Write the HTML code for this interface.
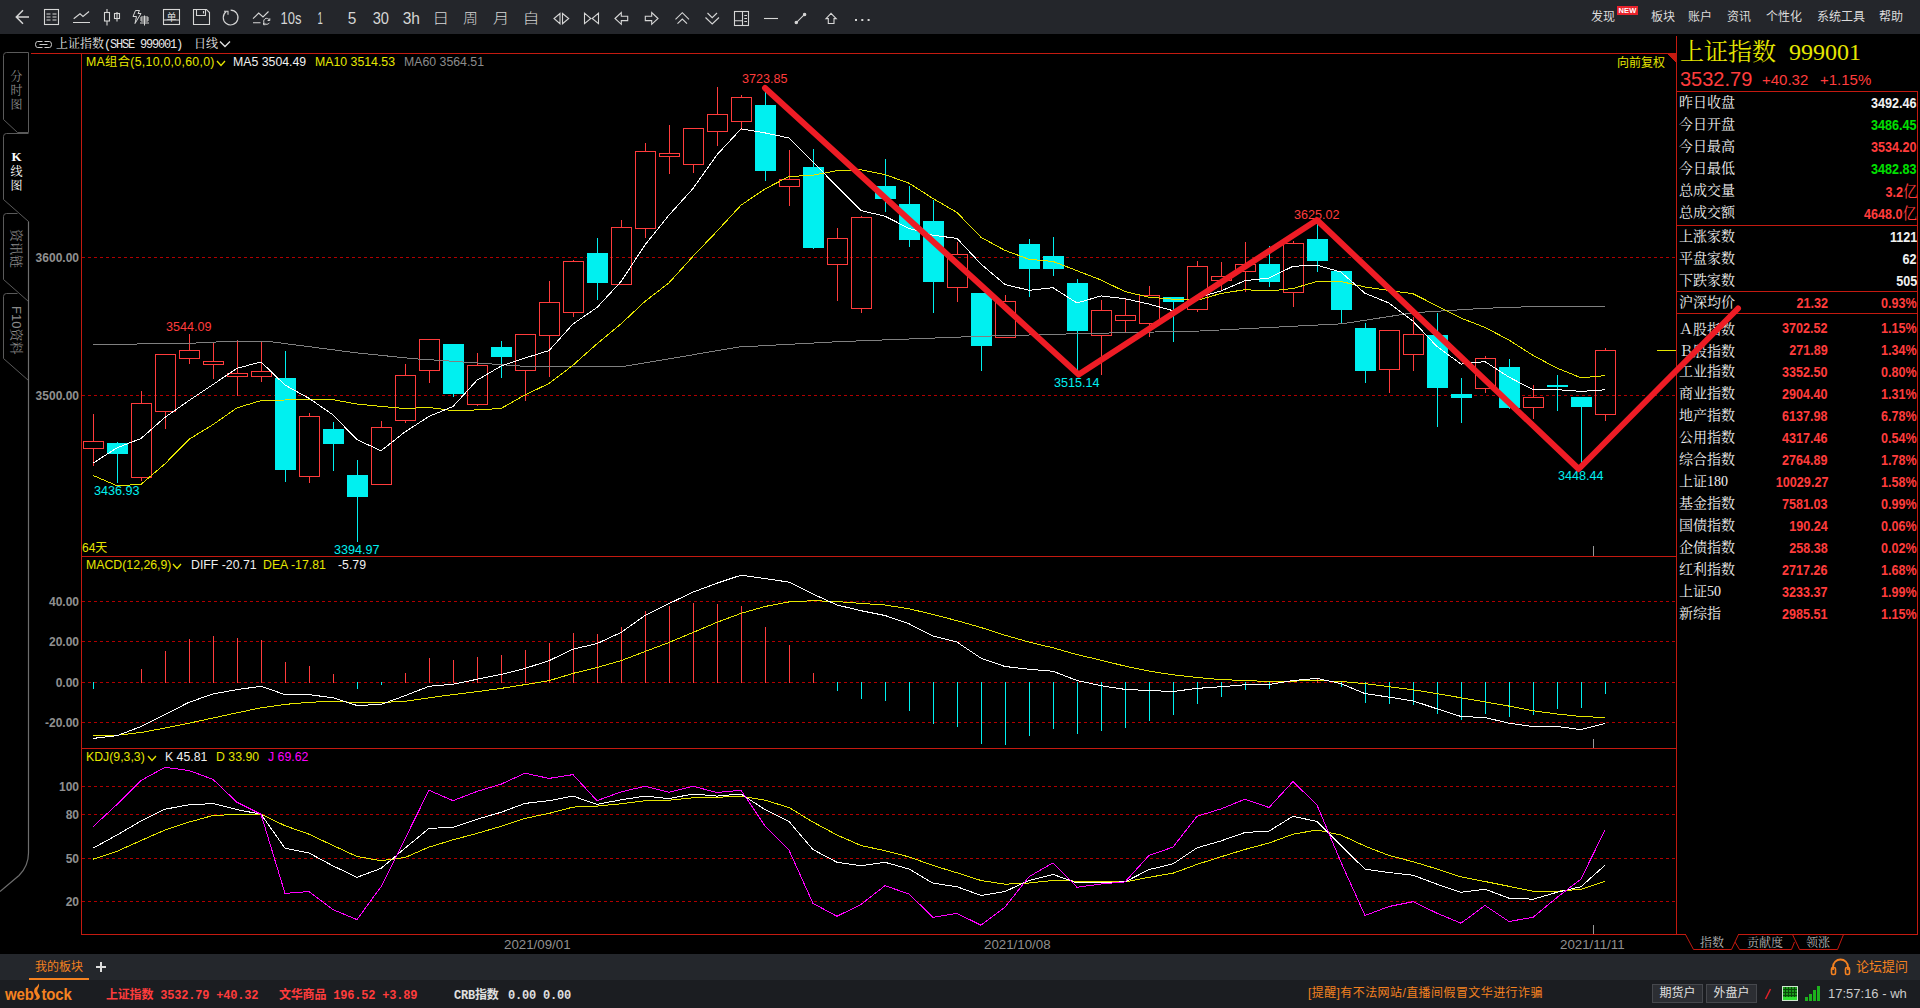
<!DOCTYPE html>
<html lang="zh-CN"><head><meta charset="utf-8"><title>上证指数 K线图</title>
<style>
html,body{margin:0;padding:0;background:#000;}
body{width:1920px;height:1008px;position:relative;overflow:hidden;font-family:"Liberation Sans","Noto Sans CJK SC",sans-serif;}
.abs{position:absolute;}
.t{position:absolute;white-space:nowrap;line-height:16px;font-size:12px;color:#ddd;}
.menu{font-size:12px;line-height:18px;color:#dcdcdc;font-family:"Liberation Sans","Noto Sans CJK SC",sans-serif;}
.new{position:absolute;left:1617px;top:6px;width:21px;height:9px;background:#e8222c;color:#fff;font-size:7.500px;line-height:9px;text-align:center;font-weight:bold;letter-spacing:0.2px;font-family:"Liberation Sans",sans-serif;}
.song12{font-family:"Liberation Mono","Noto Serif CJK SC",serif;font-size:12px;line-height:16px;color:#e8e8e8;}
.mono{font-family:"Liberation Mono",monospace;font-size:12px;letter-spacing:-1.2px;}
.lab{font-size:12.300px;line-height:16px;}
.yel{color:#e6e600;} .wht{color:#f0f0f0;} .gry{color:#8c8c8c;} .mag{color:#ff00ff;}
.red{color:#ff3c3c;} .cy{color:#00f0f0;} .g{color:#00e000;} .w{color:#f0f0f0;}
.yax{font-weight:bold;color:#909090;font-size:12px;line-height:16px;}
.date{color:#909090;font-size:13.3px;line-height:16px;margin-top:1px}
.vt{position:absolute;width:13px;text-align:center;font-size:12px;line-height:14px;font-family:"Noto Serif CJK SC",serif;}
.rt{position:absolute;writing-mode:vertical-rl;text-orientation:sideways;font-size:13px;line-height:14px;color:#8a8a8a;font-family:"Liberation Sans","Noto Serif CJK SC",serif;white-space:nowrap;}
.big{font-family:"Liberation Serif","Noto Serif CJK SC",serif;font-size:24px;line-height:28px;color:#e6e600;word-spacing:7px;}
.rl{font-family:"Liberation Serif","Noto Serif CJK SC",serif;font-size:14px;line-height:20px;color:#f0f0f0;}
.fw{font-family:"Noto Serif CJK SC",serif;}
.rv{font-weight:bold;font-size:14px;line-height:20px;transform:scaleX(0.9);transform-origin:100% 50%;}
.yi{font-family:"Noto Serif CJK SC",serif;font-weight:normal;font-size:16px;letter-spacing:0;}
.logo{color:#f58220;font-weight:bold;font-size:15px;line-height:24px;letter-spacing:-0.1px;transform:scaleY(1.16);transform-origin:0 20px;}
.stat{font-family:"Liberation Mono","Noto Sans CJK SC",monospace;font-weight:bold;font-size:12px;line-height:16px;letter-spacing:-0.2px;}
.btn{position:absolute;top:984px;width:49px;height:17px;border:1px solid #46484d;background:#2c2e33;color:#e0e0e0;font-size:12px;line-height:17px;text-align:center;}
</style></head><body>
<div class="abs" style="left:0;top:0;width:1920px;height:34px;background:#24262b"></div>
<svg class="abs" style="left:0;top:0" width="900" height="34" viewBox="0 0 900 34"><g fill="none" stroke="#d6d6d6" stroke-width="1.1" stroke-linecap="butt" stroke-linejoin="miter"><path d="M29,17 H16.5 M23,10.3 L16.3,17 L23,23.7" stroke-width="1.5"/></g><g fill="none" stroke="#d6d6d6" stroke-width="1.1" stroke-linecap="butt" stroke-linejoin="miter"><rect x="44.5" y="9.5" width="14" height="15"/><path d="M46.5,14 H50.5 M52.5,14 H56.5 M46.5,17 H50.5 M52.5,17 H56.5 M46.5,20 H50.5 M52.5,20 H56.5"/></g><g fill="none" stroke="#d6d6d6" stroke-width="1.1" stroke-linecap="butt" stroke-linejoin="miter"><path d="M73.7,18.7 L80,13.8 L83,16.5 L89,11.5 M73,22.5 H90"/></g><g fill="none" stroke="#d6d6d6" stroke-width="1.1" stroke-linecap="butt" stroke-linejoin="miter"><rect x="104.5" y="12.5" width="5" height="8.5"/><path d="M107,9 V12.5 M107,21 V25.5"/><rect x="114.5" y="13.5" width="5" height="5"/><path d="M117,12 V21.5"/></g><g fill="none" stroke="#d6d6d6" stroke-width="1" stroke-linecap="butt" stroke-linejoin="miter"><path d="M139.5,10.5 H135.5 L133,16.5 H136.5 L135,23.5 L141,13.5 H138 Z"/><path d="M141,17 H148 V21 H141 Z M141,19 H148 M144.5,15.5 V25.5 M140,23 H149"/></g><g fill="none" stroke="#d6d6d6" stroke-width="1.1" stroke-linecap="butt" stroke-linejoin="miter"><rect x="163.5" y="9.5" width="16" height="15"/><path d="M163.5,20 H179.500"/></g><text x="171.5" y="20.5" text-anchor="middle" font-family="Liberation Sans, Noto Sans CJK SC, sans-serif" font-size="10" fill="#d6d6d6">单</text><g fill="none" stroke="#d6d6d6" stroke-width="1.1" stroke-linecap="butt" stroke-linejoin="miter"><path d="M193.5,9.5 H206.5 L209.5,12.5 V24.5 H193.5 Z M196.5,9.5 V15.500 H205.500 V9.5 M203.5,11 V13.5"/></g><g fill="none" stroke="#d6d6d6" stroke-width="1.1" stroke-linecap="butt" stroke-linejoin="miter"><path d="M226.300,11.500 A7.400,7.400 0 1 0 230.600,10.100"/><path d="M224,11.200 H228 V14.800"/></g><g fill="none" stroke="#d6d6d6" stroke-width="1.1" stroke-linecap="butt" stroke-linejoin="miter"><path d="M253,18.700 L258.700,13 L263,17 L268.500,11.500 M253,22.700 H260.500"/><path d="M269.500,20.300 A3,3 0 1 0 269.300,22.800 M269.800,18.300 V20.500 H267.600 M263.500,22.700 L263.500,24.700 L265.500,24.700" stroke-width="1"/></g><text x="280.6" y="23.7" textLength="20.9" lengthAdjust="spacingAndGlyphs" font-family="Liberation Sans, sans-serif" font-size="16.5" font-weight="400" fill="#d6d6d6">10s</text><text x="317.5" y="23.7" textLength="5.3" lengthAdjust="spacingAndGlyphs" font-family="Liberation Sans, sans-serif" font-size="16.5" font-weight="400" fill="#d6d6d6">1</text><text x="347.7" y="23.7" textLength="8.6" lengthAdjust="spacingAndGlyphs" font-family="Liberation Sans, sans-serif" font-size="16.5" font-weight="400" fill="#d6d6d6">5</text><text x="372.7" y="23.7" textLength="16.3" lengthAdjust="spacingAndGlyphs" font-family="Liberation Sans, sans-serif" font-size="16.5" font-weight="400" fill="#d6d6d6">30</text><text x="402.7" y="23.7" textLength="17.3" lengthAdjust="spacingAndGlyphs" font-family="Liberation Sans, sans-serif" font-size="16.5" font-weight="400" fill="#d6d6d6">3h</text><text x="432.3" y="23.3" textLength="17.0" lengthAdjust="spacingAndGlyphs" font-family="Noto Sans CJK SC, Liberation Sans, sans-serif" font-size="13.5" font-weight="300" fill="#d6d6d6">日</text><text x="463.1" y="23.3" textLength="15.0" lengthAdjust="spacingAndGlyphs" font-family="Noto Sans CJK SC, Liberation Sans, sans-serif" font-size="13.5" font-weight="300" fill="#d6d6d6">周</text><text x="492.7" y="23.3" textLength="16.5" lengthAdjust="spacingAndGlyphs" font-family="Noto Sans CJK SC, Liberation Sans, sans-serif" font-size="13.5" font-weight="300" fill="#d6d6d6">月</text><text x="522.5" y="23.3" textLength="17.0" lengthAdjust="spacingAndGlyphs" font-family="Noto Sans CJK SC, Liberation Sans, sans-serif" font-size="13.5" font-weight="300" fill="#d6d6d6">自</text><g fill="none" stroke="#d6d6d6" stroke-width="1.1" stroke-linecap="butt" stroke-linejoin="miter"><path d="M560,13.500 L554,18.500 L560,23.700 Z M562.500,13.500 L568.700,18.500 L562.500,23.700 Z"/></g><g fill="none" stroke="#d6d6d6" stroke-width="1.1" stroke-linecap="butt" stroke-linejoin="miter"><path d="M584.500,13.200 L590.800,18.500 L584.500,23.700 Z M598.500,13.200 L592.200,18.500 L598.500,23.700 Z"/></g><g fill="none" stroke="#d6d6d6" stroke-width="1.1" stroke-linecap="butt" stroke-linejoin="miter"><path d="M615,18.500 L621.300,12.600 V16.300 H627.700 V20.600 H621.300 V24.300 Z"/></g><g fill="none" stroke="#d6d6d6" stroke-width="1.1" stroke-linecap="butt" stroke-linejoin="miter"><path d="M658,18.500 L651.700,12.600 V16.300 H645.300 V20.600 H651.700 V24.300 Z"/></g><g fill="none" stroke="#d6d6d6" stroke-width="1.1" stroke-linecap="butt" stroke-linejoin="miter"><path d="M675.500,19.300 L682.300,12.700 L689,19.300 M677.500,23.700 L682.300,19 L687,23.700"/></g><g fill="none" stroke="#d6d6d6" stroke-width="1.1" stroke-linecap="butt" stroke-linejoin="miter"><path d="M707.500,13 L712.200,17.700 L717,13 M705.500,17.500 L712.200,24 L719,17.500"/></g><g fill="none" stroke="#d6d6d6" stroke-width="1.1" stroke-linecap="butt" stroke-linejoin="miter"><rect x="734.500" y="11.500" width="14" height="14"/><path d="M742.500,11.500 V25.500 M734.500,20.800 H742.500 M744.300,15.500 H747 M744.300,18.500 H747 M744.300,21.500 H747"/></g><g fill="none" stroke="#d6d6d6" stroke-width="1.1" stroke-linecap="butt" stroke-linejoin="miter"><path d="M764,18.500 H778"/></g><g fill="none" stroke="#d6d6d6" stroke-width="1.1" stroke-linecap="butt" stroke-linejoin="miter"><path d="M796.300,22.600 L804.600,14.400"/><circle cx="796.300" cy="22.600" r="1.200" fill="#d6d6d6"/><circle cx="804.600" cy="14.400" r="1.200" fill="#d6d6d6"/></g><g fill="none" stroke="#d6d6d6" stroke-width="1.1" stroke-linecap="butt" stroke-linejoin="miter"><path d="M831,13.300 L826,18.600 H828.300 V23.500 H834 V18.600 H836.200 Z"/></g><rect x="855" y="19" width="2" height="2" fill="#d6d6d6"/><rect x="861.300" y="19" width="2" height="2" fill="#d6d6d6"/><rect x="867.600" y="19" width="2" height="2" fill="#d6d6d6"/></svg>
<svg class="abs" style="left:0;top:0" width="1920" height="1008" viewBox="0 0 1920 1008" shape-rendering="crispEdges"><rect x="31" y="53" width="1646" height="1" fill="#c41a10"/><rect x="81" y="53" width="1" height="882" fill="#c41a10"/><rect x="81" y="556" width="1596" height="1" fill="#c41a10"/><rect x="81" y="748" width="1596" height="1" fill="#c41a10"/><rect x="81" y="934" width="1596" height="1" fill="#c41a10"/><rect x="1676" y="36" width="1" height="899" fill="#c41a10"/><rect x="1917" y="91" width="1" height="844" fill="#c41a10"/><rect x="1676" y="91" width="242" height="1" fill="#c41a10"/><rect x="1676" y="225" width="242" height="1" fill="#c41a10"/><rect x="1676" y="291" width="242" height="1" fill="#c41a10"/><rect x="1676" y="313" width="242" height="1" fill="#c41a10"/><rect x="1676" y="934" width="10" height="1" fill="#c41a10"/><rect x="1738" y="934" width="180" height="1" fill="#c41a10"/><polygon points="1666,53 1677,53 1677,64" fill="#c41a10"/><line x1="82" y1="257.5" x2="1676" y2="257.5" stroke="#b00000" stroke-width="1" stroke-dasharray="3 3"/><line x1="82" y1="395.5" x2="1676" y2="395.5" stroke="#b00000" stroke-width="1" stroke-dasharray="3 3"/><line x1="82" y1="601.5" x2="1676" y2="601.5" stroke="#b00000" stroke-width="1" stroke-dasharray="3 3"/><line x1="82" y1="641.5" x2="1676" y2="641.5" stroke="#b00000" stroke-width="1" stroke-dasharray="3 3"/><line x1="82" y1="682.5" x2="1676" y2="682.5" stroke="#b00000" stroke-width="1" stroke-dasharray="3 3"/><line x1="82" y1="722.5" x2="1676" y2="722.5" stroke="#b00000" stroke-width="1" stroke-dasharray="3 3"/><line x1="82" y1="786.5" x2="1676" y2="786.5" stroke="#b00000" stroke-width="1" stroke-dasharray="3 3"/><line x1="82" y1="814.5" x2="1676" y2="814.5" stroke="#b00000" stroke-width="1" stroke-dasharray="3 3"/><line x1="82" y1="858.5" x2="1676" y2="858.5" stroke="#b00000" stroke-width="1" stroke-dasharray="3 3"/><line x1="82" y1="901.5" x2="1676" y2="901.5" stroke="#b00000" stroke-width="1" stroke-dasharray="3 3"/><rect x="1593" y="546" width="1" height="10" fill="#999"/><rect x="1593" y="739" width="1" height="9" fill="#999"/><rect x="1593" y="925" width="1" height="9" fill="#999"/><rect x="1593" y="554" width="1" height="2" fill="#999"/><rect x="93" y="414" width="1" height="28" fill="#ff3c3c"/><rect x="93" y="448" width="1" height="18" fill="#ff3c3c"/><rect x="83.5" y="441.5" width="20" height="7" fill="none" stroke="#ff3c3c" stroke-width="1"/><rect x="117" y="442" width="1" height="41" fill="#00f0f0"/><rect x="107" y="443" width="21" height="11" fill="#00f0f0"/><rect x="141" y="391" width="1" height="13" fill="#ff3c3c"/><rect x="141" y="477" width="1" height="4" fill="#ff3c3c"/><rect x="131.5" y="403.5" width="20" height="74" fill="none" stroke="#ff3c3c" stroke-width="1"/><rect x="165" y="411" width="1" height="18" fill="#ff3c3c"/><rect x="155.5" y="354.5" width="20" height="57" fill="none" stroke="#ff3c3c" stroke-width="1"/><rect x="189" y="334" width="1" height="17" fill="#ff3c3c"/><rect x="189" y="358" width="1" height="6" fill="#ff3c3c"/><rect x="179.5" y="350.5" width="20" height="8" fill="none" stroke="#ff3c3c" stroke-width="1"/><rect x="213" y="342" width="1" height="20" fill="#ff3c3c"/><rect x="213" y="364" width="1" height="15" fill="#ff3c3c"/><rect x="203.5" y="361.5" width="20" height="3" fill="none" stroke="#ff3c3c" stroke-width="1"/><rect x="237" y="340" width="1" height="34" fill="#ff3c3c"/><rect x="237" y="376" width="1" height="20" fill="#ff3c3c"/><rect x="227.5" y="373.5" width="20" height="3" fill="none" stroke="#ff3c3c" stroke-width="1"/><rect x="261" y="342" width="1" height="30" fill="#ff3c3c"/><rect x="261" y="376" width="1" height="6" fill="#ff3c3c"/><rect x="251.5" y="371.5" width="20" height="5" fill="none" stroke="#ff3c3c" stroke-width="1"/><rect x="285" y="351" width="1" height="131" fill="#00f0f0"/><rect x="275" y="378" width="21" height="92" fill="#00f0f0"/><rect x="309" y="413" width="1" height="4" fill="#ff3c3c"/><rect x="309" y="476" width="1" height="7" fill="#ff3c3c"/><rect x="299.5" y="416.5" width="20" height="60" fill="none" stroke="#ff3c3c" stroke-width="1"/><rect x="333" y="422" width="1" height="49" fill="#00f0f0"/><rect x="323" y="429" width="21" height="15" fill="#00f0f0"/><rect x="357" y="460" width="1" height="82" fill="#00f0f0"/><rect x="347" y="475" width="21" height="22" fill="#00f0f0"/><rect x="381" y="421" width="1" height="7" fill="#ff3c3c"/><rect x="371.5" y="427.5" width="20" height="57" fill="none" stroke="#ff3c3c" stroke-width="1"/><rect x="405" y="364" width="1" height="12" fill="#ff3c3c"/><rect x="405" y="420" width="1" height="3" fill="#ff3c3c"/><rect x="395.5" y="375.5" width="20" height="45" fill="none" stroke="#ff3c3c" stroke-width="1"/><rect x="429" y="370" width="1" height="13" fill="#ff3c3c"/><rect x="419.5" y="339.5" width="20" height="31" fill="none" stroke="#ff3c3c" stroke-width="1"/><rect x="453" y="344" width="1" height="53" fill="#00f0f0"/><rect x="443" y="344" width="21" height="50" fill="#00f0f0"/><rect x="477" y="353" width="1" height="13" fill="#ff3c3c"/><rect x="477" y="404" width="1" height="2" fill="#ff3c3c"/><rect x="467.5" y="365.5" width="20" height="39" fill="none" stroke="#ff3c3c" stroke-width="1"/><rect x="501" y="341" width="1" height="37" fill="#00f0f0"/><rect x="491" y="347" width="21" height="10" fill="#00f0f0"/><rect x="525" y="370" width="1" height="31" fill="#ff3c3c"/><rect x="515.5" y="334.5" width="20" height="36" fill="none" stroke="#ff3c3c" stroke-width="1"/><rect x="549" y="281" width="1" height="22" fill="#ff3c3c"/><rect x="549" y="335" width="1" height="42" fill="#ff3c3c"/><rect x="539.5" y="302.5" width="20" height="33" fill="none" stroke="#ff3c3c" stroke-width="1"/><rect x="573" y="260" width="1" height="2" fill="#ff3c3c"/><rect x="573" y="312" width="1" height="5" fill="#ff3c3c"/><rect x="563.5" y="261.5" width="20" height="51" fill="none" stroke="#ff3c3c" stroke-width="1"/><rect x="597" y="238" width="1" height="62" fill="#00f0f0"/><rect x="587" y="253" width="21" height="30" fill="#00f0f0"/><rect x="621" y="220" width="1" height="8" fill="#ff3c3c"/><rect x="611.5" y="227.5" width="20" height="57" fill="none" stroke="#ff3c3c" stroke-width="1"/><rect x="645" y="143" width="1" height="9" fill="#ff3c3c"/><rect x="645" y="228" width="1" height="10" fill="#ff3c3c"/><rect x="635.5" y="151.5" width="20" height="77" fill="none" stroke="#ff3c3c" stroke-width="1"/><rect x="669" y="125" width="1" height="29" fill="#ff3c3c"/><rect x="669" y="156" width="1" height="18" fill="#ff3c3c"/><rect x="659.5" y="153.5" width="20" height="3" fill="none" stroke="#ff3c3c" stroke-width="1"/><rect x="693" y="164" width="1" height="9" fill="#ff3c3c"/><rect x="683.5" y="128.5" width="20" height="36" fill="none" stroke="#ff3c3c" stroke-width="1"/><rect x="717" y="87" width="1" height="28" fill="#ff3c3c"/><rect x="717" y="131" width="1" height="15" fill="#ff3c3c"/><rect x="707.5" y="114.5" width="20" height="17" fill="none" stroke="#ff3c3c" stroke-width="1"/><rect x="741" y="95" width="1" height="3" fill="#ff3c3c"/><rect x="741" y="121" width="1" height="9" fill="#ff3c3c"/><rect x="731.5" y="97.5" width="20" height="24" fill="none" stroke="#ff3c3c" stroke-width="1"/><rect x="765" y="87" width="1" height="94" fill="#00f0f0"/><rect x="755" y="105" width="21" height="66" fill="#00f0f0"/><rect x="789" y="150" width="1" height="30" fill="#ff3c3c"/><rect x="789" y="186" width="1" height="20" fill="#ff3c3c"/><rect x="779.5" y="179.5" width="20" height="7" fill="none" stroke="#ff3c3c" stroke-width="1"/><rect x="813" y="149" width="1" height="100" fill="#00f0f0"/><rect x="803" y="167" width="21" height="81" fill="#00f0f0"/><rect x="837" y="228" width="1" height="11" fill="#ff3c3c"/><rect x="837" y="264" width="1" height="37" fill="#ff3c3c"/><rect x="827.5" y="238.5" width="20" height="26" fill="none" stroke="#ff3c3c" stroke-width="1"/><rect x="861" y="216" width="1" height="2" fill="#ff3c3c"/><rect x="861" y="308" width="1" height="5" fill="#ff3c3c"/><rect x="851.5" y="217.5" width="20" height="91" fill="none" stroke="#ff3c3c" stroke-width="1"/><rect x="885" y="159" width="1" height="53" fill="#00f0f0"/><rect x="875" y="186" width="21" height="13" fill="#00f0f0"/><rect x="909" y="186" width="1" height="61" fill="#00f0f0"/><rect x="899" y="204" width="21" height="36" fill="#00f0f0"/><rect x="933" y="200" width="1" height="113" fill="#00f0f0"/><rect x="923" y="221" width="21" height="61" fill="#00f0f0"/><rect x="957" y="242" width="1" height="13" fill="#ff3c3c"/><rect x="957" y="287" width="1" height="15" fill="#ff3c3c"/><rect x="947.5" y="254.5" width="20" height="33" fill="none" stroke="#ff3c3c" stroke-width="1"/><rect x="981" y="293" width="1" height="78" fill="#00f0f0"/><rect x="971" y="293" width="21" height="53" fill="#00f0f0"/><rect x="1005" y="295" width="1" height="7" fill="#ff3c3c"/><rect x="995.5" y="301.5" width="20" height="36" fill="none" stroke="#ff3c3c" stroke-width="1"/><rect x="1029" y="239" width="1" height="58" fill="#00f0f0"/><rect x="1019" y="244" width="21" height="25" fill="#00f0f0"/><rect x="1053" y="237" width="1" height="39" fill="#00f0f0"/><rect x="1043" y="256" width="21" height="13" fill="#00f0f0"/><rect x="1077" y="279" width="1" height="95" fill="#00f0f0"/><rect x="1067" y="283" width="21" height="48" fill="#00f0f0"/><rect x="1101" y="300" width="1" height="11" fill="#ff3c3c"/><rect x="1101" y="335" width="1" height="40" fill="#ff3c3c"/><rect x="1091.5" y="310.5" width="20" height="25" fill="none" stroke="#ff3c3c" stroke-width="1"/><rect x="1125" y="299" width="1" height="17" fill="#ff3c3c"/><rect x="1125" y="320" width="1" height="12" fill="#ff3c3c"/><rect x="1115.5" y="315.5" width="20" height="5" fill="none" stroke="#ff3c3c" stroke-width="1"/><rect x="1149" y="286" width="1" height="10" fill="#ff3c3c"/><rect x="1149" y="323" width="1" height="14" fill="#ff3c3c"/><rect x="1139.5" y="295.5" width="20" height="28" fill="none" stroke="#ff3c3c" stroke-width="1"/><rect x="1173" y="297" width="1" height="45" fill="#00f0f0"/><rect x="1163" y="297" width="21" height="5" fill="#00f0f0"/><rect x="1197" y="261" width="1" height="6" fill="#ff3c3c"/><rect x="1197" y="309" width="1" height="3" fill="#ff3c3c"/><rect x="1187.5" y="266.5" width="20" height="43" fill="none" stroke="#ff3c3c" stroke-width="1"/><rect x="1221" y="262" width="1" height="15" fill="#ff3c3c"/><rect x="1221" y="280" width="1" height="10" fill="#ff3c3c"/><rect x="1211.5" y="276.5" width="20" height="4" fill="none" stroke="#ff3c3c" stroke-width="1"/><rect x="1245" y="242" width="1" height="23" fill="#ff3c3c"/><rect x="1245" y="271" width="1" height="21" fill="#ff3c3c"/><rect x="1235.5" y="264.5" width="20" height="7" fill="none" stroke="#ff3c3c" stroke-width="1"/><rect x="1269" y="246" width="1" height="41" fill="#00f0f0"/><rect x="1259" y="264" width="21" height="18" fill="#00f0f0"/><rect x="1293" y="241" width="1" height="3" fill="#ff3c3c"/><rect x="1293" y="292" width="1" height="15" fill="#ff3c3c"/><rect x="1283.5" y="243.5" width="20" height="49" fill="none" stroke="#ff3c3c" stroke-width="1"/><rect x="1317" y="222" width="1" height="50" fill="#00f0f0"/><rect x="1307" y="239" width="21" height="22" fill="#00f0f0"/><rect x="1341" y="271" width="1" height="52" fill="#00f0f0"/><rect x="1331" y="271" width="21" height="39" fill="#00f0f0"/><rect x="1365" y="323" width="1" height="60" fill="#00f0f0"/><rect x="1355" y="328" width="21" height="43" fill="#00f0f0"/><rect x="1389" y="369" width="1" height="24" fill="#ff3c3c"/><rect x="1379.5" y="330.5" width="20" height="39" fill="none" stroke="#ff3c3c" stroke-width="1"/><rect x="1413" y="317" width="1" height="18" fill="#ff3c3c"/><rect x="1413" y="354" width="1" height="17" fill="#ff3c3c"/><rect x="1403.5" y="334.5" width="20" height="20" fill="none" stroke="#ff3c3c" stroke-width="1"/><rect x="1437" y="313" width="1" height="114" fill="#00f0f0"/><rect x="1427" y="335" width="21" height="53" fill="#00f0f0"/><rect x="1461" y="378" width="1" height="45" fill="#00f0f0"/><rect x="1451" y="394" width="21" height="4" fill="#00f0f0"/><rect x="1485" y="356" width="1" height="3" fill="#ff3c3c"/><rect x="1485" y="388" width="1" height="5" fill="#ff3c3c"/><rect x="1475.5" y="358.5" width="20" height="30" fill="none" stroke="#ff3c3c" stroke-width="1"/><rect x="1509" y="359" width="1" height="50" fill="#00f0f0"/><rect x="1499" y="367" width="21" height="41" fill="#00f0f0"/><rect x="1533" y="385" width="1" height="13" fill="#ff3c3c"/><rect x="1533" y="407" width="1" height="12" fill="#ff3c3c"/><rect x="1523.5" y="397.5" width="20" height="10" fill="none" stroke="#ff3c3c" stroke-width="1"/><rect x="1557" y="375" width="1" height="36" fill="#00f0f0"/><rect x="1547" y="385" width="21" height="2" fill="#00f0f0"/><rect x="1581" y="397" width="1" height="69" fill="#00f0f0"/><rect x="1571" y="397" width="21" height="10" fill="#00f0f0"/><rect x="1605" y="348" width="1" height="3" fill="#ff3c3c"/><rect x="1605" y="414" width="1" height="7" fill="#ff3c3c"/><rect x="1595.5" y="350.5" width="20" height="64" fill="none" stroke="#ff3c3c" stroke-width="1"/><polyline points="93.0,344.6 190.0,343.3 237.0,341.0 273.0,342.0 357.0,352.9 415.0,358.8 440.0,360.4 501.0,364.6 525.0,366.4 624.0,366.4 739.0,347.0 840.0,341.6 980.0,336.3 1078.0,333.7 1200.0,331.0 1342.0,323.8 1414.0,312.7 1484.0,308.3 1545.0,306.2 1605.0,306.2" fill="none" stroke="#808080" stroke-width="1" /><polyline points="93.0,475.4 117.0,485.7 141.0,484.4 165.0,463.8 189.0,439.3 213.0,424.6 237.0,407.8 261.0,400.6 285.0,400.0 309.0,399.4 333.0,399.7 357.0,404.0 381.0,406.4 405.0,408.5 429.0,407.4 453.0,410.7 477.0,409.9 501.0,408.5 525.0,394.9 549.0,383.5 573.0,365.2 597.0,343.8 621.0,323.9 645.0,301.4 669.0,282.8 693.0,256.3 717.0,231.2 741.0,205.2 765.0,188.9 789.0,176.6 813.0,175.2 837.0,170.7 861.0,169.8 885.0,174.6 909.0,183.2 933.0,198.5 957.0,212.5 981.0,237.3 1005.0,250.4 1029.0,259.3 1053.0,261.4 1077.0,270.7 1101.0,280.0 1125.0,291.6 1149.0,297.2 1173.0,299.2 1197.0,300.4 1221.0,293.4 1245.0,289.7 1269.0,291.0 1293.0,288.5 1317.0,281.5 1341.0,281.5 1365.0,287.0 1389.0,290.5 1413.0,293.7 1437.0,305.9 1461.0,318.1 1485.0,327.4 1509.0,340.1 1533.0,355.4 1557.0,368.1 1581.0,377.8 1605.0,375.7" fill="none" stroke="#e6e600" stroke-width="1" /><polyline points="93.0,463.2 117.0,447.8 141.0,438.5 165.0,417.3 189.0,400.5 213.0,384.5 237.0,368.3 261.0,361.9 285.0,385.1 309.0,398.3 333.0,414.9 357.0,439.7 381.0,450.8 405.0,431.9 429.0,416.4 453.0,406.5 477.0,380.2 501.0,366.1 525.0,358.0 549.0,350.6 573.0,324.0 597.0,307.5 621.0,281.6 645.0,244.9 669.0,215.1 693.0,188.5 717.0,154.8 741.0,128.9 765.0,132.9 789.0,138.0 813.0,161.9 837.0,186.6 861.0,210.6 885.0,216.2 909.0,228.4 933.0,235.2 957.0,238.4 981.0,264.1 1005.0,284.5 1029.0,290.3 1053.0,287.7 1077.0,303.0 1101.0,295.9 1125.0,298.7 1149.0,304.1 1173.0,310.7 1197.0,297.8 1221.0,290.9 1245.0,280.7 1269.0,278.0 1293.0,266.3 1317.0,265.2 1341.0,272.1 1365.0,293.3 1389.0,303.0 1413.0,321.2 1437.0,346.5 1461.0,364.1 1485.0,361.6 1509.0,377.1 1533.0,389.7 1557.0,389.6 1581.0,391.4 1605.0,389.8" fill="none" stroke="#ffffff" stroke-width="1" /><rect x="1657" y="350" width="19" height="1" fill="#e6e600"/><rect x="93" y="682" width="1" height="7" fill="#00f0f0"/><rect x="141" y="669" width="1" height="14" fill="#ff3c3c"/><rect x="165" y="651" width="1" height="32" fill="#ff3c3c"/><rect x="189" y="639" width="1" height="44" fill="#ff3c3c"/><rect x="213" y="636" width="1" height="47" fill="#ff3c3c"/><rect x="237" y="638" width="1" height="45" fill="#ff3c3c"/><rect x="261" y="640" width="1" height="43" fill="#ff3c3c"/><rect x="285" y="662" width="1" height="21" fill="#ff3c3c"/><rect x="309" y="666" width="1" height="17" fill="#ff3c3c"/><rect x="333" y="674" width="1" height="9" fill="#ff3c3c"/><rect x="357" y="682" width="1" height="7" fill="#00f0f0"/><rect x="381" y="682" width="1" height="3" fill="#00f0f0"/><rect x="405" y="673" width="1" height="10" fill="#ff3c3c"/><rect x="429" y="658" width="1" height="25" fill="#ff3c3c"/><rect x="453" y="660" width="1" height="23" fill="#ff3c3c"/><rect x="477" y="657" width="1" height="26" fill="#ff3c3c"/><rect x="501" y="655" width="1" height="28" fill="#ff3c3c"/><rect x="525" y="650" width="1" height="33" fill="#ff3c3c"/><rect x="549" y="643" width="1" height="40" fill="#ff3c3c"/><rect x="573" y="633" width="1" height="50" fill="#ff3c3c"/><rect x="597" y="634" width="1" height="49" fill="#ff3c3c"/><rect x="621" y="627" width="1" height="56" fill="#ff3c3c"/><rect x="645" y="611" width="1" height="72" fill="#ff3c3c"/><rect x="669" y="606" width="1" height="77" fill="#ff3c3c"/><rect x="693" y="603" width="1" height="80" fill="#ff3c3c"/><rect x="717" y="604" width="1" height="79" fill="#ff3c3c"/><rect x="741" y="606" width="1" height="77" fill="#ff3c3c"/><rect x="765" y="627" width="1" height="56" fill="#ff3c3c"/><rect x="789" y="645" width="1" height="38" fill="#ff3c3c"/><rect x="813" y="673" width="1" height="10" fill="#ff3c3c"/><rect x="837" y="682" width="1" height="9" fill="#00f0f0"/><rect x="861" y="682" width="1" height="17" fill="#00f0f0"/><rect x="885" y="682" width="1" height="19" fill="#00f0f0"/><rect x="909" y="682" width="1" height="29" fill="#00f0f0"/><rect x="933" y="682" width="1" height="42" fill="#00f0f0"/><rect x="957" y="682" width="1" height="45" fill="#00f0f0"/><rect x="981" y="682" width="1" height="62" fill="#00f0f0"/><rect x="1005" y="682" width="1" height="63" fill="#00f0f0"/><rect x="1029" y="682" width="1" height="54" fill="#00f0f0"/><rect x="1053" y="682" width="1" height="47" fill="#00f0f0"/><rect x="1077" y="682" width="1" height="52" fill="#00f0f0"/><rect x="1101" y="682" width="1" height="49" fill="#00f0f0"/><rect x="1125" y="682" width="1" height="46" fill="#00f0f0"/><rect x="1149" y="682" width="1" height="39" fill="#00f0f0"/><rect x="1173" y="682" width="1" height="33" fill="#00f0f0"/><rect x="1197" y="682" width="1" height="22" fill="#00f0f0"/><rect x="1221" y="682" width="1" height="15" fill="#00f0f0"/><rect x="1245" y="682" width="1" height="8" fill="#00f0f0"/><rect x="1269" y="682" width="1" height="7" fill="#00f0f0"/><rect x="1317" y="679" width="1" height="4" fill="#ff3c3c"/><rect x="1341" y="682" width="1" height="5" fill="#00f0f0"/><rect x="1365" y="682" width="1" height="21" fill="#00f0f0"/><rect x="1389" y="682" width="1" height="22" fill="#00f0f0"/><rect x="1413" y="682" width="1" height="23" fill="#00f0f0"/><rect x="1437" y="682" width="1" height="32" fill="#00f0f0"/><rect x="1461" y="682" width="1" height="38" fill="#00f0f0"/><rect x="1485" y="682" width="1" height="32" fill="#00f0f0"/><rect x="1509" y="682" width="1" height="35" fill="#00f0f0"/><rect x="1533" y="682" width="1" height="33" fill="#00f0f0"/><rect x="1557" y="682" width="1" height="27" fill="#00f0f0"/><rect x="1581" y="682" width="1" height="26" fill="#00f0f0"/><rect x="1605" y="682" width="1" height="12" fill="#00f0f0"/><polyline points="93.0,735.2 117.0,735.2 141.0,732.5 165.0,728.0 189.0,723.2 213.0,718.0 237.0,712.8 261.0,707.8 285.0,704.4 309.0,702.3 333.0,701.3 357.0,702.5 381.0,702.5 405.0,701.3 429.0,697.8 453.0,694.6 477.0,691.7 501.0,688.4 525.0,684.6 549.0,680.7 573.0,673.4 597.0,667.5 621.0,660.7 645.0,651.5 669.0,642.5 693.0,632.5 717.0,622.3 741.0,613.4 765.0,606.5 789.0,601.9 813.0,600.7 837.0,601.5 861.0,603.4 885.0,605.0 909.0,608.8 933.0,614.4 957.0,620.7 981.0,627.5 1005.0,635.2 1029.0,642.1 1053.0,647.8 1077.0,654.6 1101.0,660.2 1125.0,666.1 1149.0,671.1 1173.0,674.8 1197.0,677.5 1221.0,679.6 1245.0,680.5 1269.0,681.5 1293.0,681.1 1317.0,680.5 1341.0,681.5 1365.0,683.6 1389.0,686.7 1413.0,689.8 1437.0,693.6 1461.0,697.8 1485.0,701.9 1509.0,706.1 1533.0,710.7 1557.0,714.0 1581.0,716.5 1605.0,717.5" fill="none" stroke="#e6e600" stroke-width="1" /><polyline points="93.0,738.4 117.0,735.7 141.0,726.5 165.0,714.4 189.0,702.3 213.0,694.0 237.0,689.6 261.0,686.3 285.0,694.6 309.0,694.6 333.0,697.8 357.0,705.5 381.0,704.4 405.0,695.7 429.0,686.3 453.0,684.2 477.0,679.3 501.0,674.4 525.0,668.4 549.0,660.7 573.0,649.2 597.0,643.6 621.0,632.5 645.0,615.5 669.0,603.6 693.0,592.1 717.0,583.2 741.0,575.2 765.0,578.6 789.0,582.1 813.0,594.0 837.0,605.0 861.0,610.7 885.0,615.5 909.0,623.8 933.0,635.9 957.0,642.1 981.0,658.2 1005.0,666.5 1029.0,669.2 1053.0,671.3 1077.0,680.5 1101.0,685.7 1125.0,689.4 1149.0,690.5 1173.0,691.5 1197.0,688.4 1221.0,686.7 1245.0,684.8 1269.0,684.6 1293.0,680.5 1317.0,678.4 1341.0,683.6 1365.0,693.6 1389.0,697.1 1413.0,700.9 1437.0,708.8 1461.0,716.5 1485.0,717.5 1509.0,723.2 1533.0,726.5 1557.0,726.5 1581.0,729.6 1605.0,723.4" fill="none" stroke="#ffffff" stroke-width="1" /><polyline points="93.0,859.2 117.0,851.3 141.0,840.5 165.0,830.0 189.0,822.1 213.0,815.5 237.0,814.4 261.0,814.2 285.0,825.7 309.0,834.2 333.0,845.5 357.0,856.5 381.0,860.7 405.0,857.5 429.0,847.1 453.0,839.8 477.0,833.4 501.0,826.3 525.0,818.4 549.0,813.4 573.0,807.1 597.0,806.1 621.0,803.8 645.0,800.7 669.0,800.2 693.0,797.8 717.0,797.3 741.0,796.1 765.0,800.2 789.0,807.5 813.0,822.1 837.0,835.0 861.0,845.5 885.0,850.7 909.0,856.9 933.0,865.5 957.0,872.8 981.0,880.5 1005.0,884.2 1029.0,883.0 1053.0,880.5 1077.0,881.1 1101.0,881.5 1125.0,881.9 1149.0,877.3 1173.0,873.2 1197.0,864.4 1221.0,856.8 1245.0,849.4 1269.0,843.0 1293.0,834.2 1317.0,830.0 1341.0,835.0 1365.0,846.1 1389.0,855.5 1413.0,861.7 1437.0,869.0 1461.0,876.9 1485.0,881.5 1509.0,886.3 1533.0,891.3 1557.0,891.3 1581.0,889.2 1605.0,881.5" fill="none" stroke="#e6e600" stroke-width="1" /><polyline points="93.0,848.2 117.0,835.0 141.0,821.0 165.0,809.2 189.0,804.8 213.0,803.6 237.0,809.6 261.0,814.2 285.0,848.2 309.0,853.0 333.0,865.9 357.0,877.3 381.0,868.4 405.0,848.2 429.0,828.4 453.0,827.3 477.0,819.2 501.0,812.3 525.0,803.4 549.0,800.7 573.0,796.1 597.0,804.4 621.0,799.8 645.0,796.1 669.0,798.6 693.0,794.0 717.0,796.1 741.0,794.0 765.0,809.6 789.0,821.5 813.0,849.6 837.0,862.3 861.0,865.7 885.0,862.3 909.0,869.0 933.0,883.2 957.0,886.7 981.0,895.5 1005.0,891.5 1029.0,880.5 1053.0,874.4 1077.0,883.0 1101.0,882.3 1125.0,881.9 1149.0,869.6 1173.0,863.8 1197.0,847.8 1221.0,840.9 1245.0,832.5 1269.0,831.1 1293.0,816.3 1317.0,821.5 1341.0,845.5 1365.0,869.2 1389.0,872.5 1413.0,875.2 1437.0,884.2 1461.0,892.3 1485.0,889.2 1509.0,898.2 1533.0,899.2 1557.0,892.3 1581.0,886.7 1605.0,865.2" fill="none" stroke="#ffffff" stroke-width="1" /><polyline points="93.0,826.7 117.0,804.4 141.0,780.5 165.0,767.3 189.0,770.5 213.0,779.4 237.0,802.3 261.0,814.2 285.0,893.4 309.0,891.5 333.0,909.6 357.0,919.6 381.0,886.7 405.0,838.8 429.0,790.2 453.0,800.7 477.0,791.4 501.0,784.2 525.0,773.2 549.0,778.4 573.0,774.6 597.0,800.7 621.0,791.9 645.0,786.3 669.0,792.3 693.0,786.3 717.0,792.5 741.0,790.2 765.0,825.9 789.0,850.2 813.0,903.4 837.0,916.3 861.0,904.4 885.0,885.7 909.0,894.0 933.0,917.3 957.0,913.4 981.0,925.2 1005.0,907.1 1029.0,876.7 1053.0,862.8 1077.0,887.3 1101.0,884.0 1125.0,881.9 1149.0,855.5 1173.0,847.1 1197.0,816.3 1221.0,808.9 1245.0,799.2 1269.0,807.5 1293.0,781.5 1317.0,805.0 1341.0,862.3 1365.0,915.5 1389.0,906.5 1413.0,901.7 1437.0,913.2 1461.0,923.2 1485.0,905.5 1509.0,921.5 1533.0,917.3 1557.0,897.5 1581.0,879.0 1605.0,830.0" fill="none" stroke="#ff00ff" stroke-width="1" /></svg>
<svg class="abs" style="left:0;top:0" width="1920" height="1008" viewBox="0 0 1920 1008"><path d="M28.5,132.5 L28.5,52.5 L6.5,52.5 Q3.5,52.5 3.5,55.5 L3.5,119.5 L17.5,132.5 L28.5,132.5" fill="none" stroke="#5a5a5a" stroke-width="1"/><path d="M28.5,133.5 L6.5,133.5 Q3.5,133.5 3.5,136.5 L3.5,199.5 L28.5,221.5" fill="none" stroke="#5a5a5a" stroke-width="1"/><path d="M17.5,213.5 L6.5,213.5 Q3.5,213.5 3.5,216.5 L3.5,279.5 L28.5,301.5" fill="none" stroke="#5a5a5a" stroke-width="1"/><path d="M17.5,293.5 L6.5,293.5 Q3.5,293.5 3.5,296.5 L3.5,358.5 L28.5,380.5" fill="none" stroke="#5a5a5a" stroke-width="1"/><path d="M28.5,221.5 L28.5,853 Q28.5,866 19,875.5 L0,891.6" fill="none" stroke="#6e6e6e" stroke-width="1.2"/><path d="M1685.5,934.5 L1693.5,949.5 L1731.5,949.5 L1738.5,934.5" fill="none" stroke="#c41a10" stroke-width="1"/><path d="M1735,942 L1739.5,949.5 L1791.5,949.5 L1794.5,942" fill="none" stroke="#c41a10" stroke-width="1"/><path d="M1792.5,934.5 L1799.5,949.5 L1837.5,949.5 L1843.5,934.5" fill="none" stroke="#c41a10" stroke-width="1"/></svg>
<div class="t menu" style="left:1591px;top:8px;">发现</div><div class="t menu" style="left:1651px;top:8px;">板块</div><div class="t menu" style="left:1688px;top:8px;">账户</div><div class="t menu" style="left:1727px;top:8px;">资讯</div><div class="t menu" style="left:1766px;top:8px;">个性化</div><div class="t menu" style="left:1817px;top:8px;">系统工具</div><div class="t menu" style="left:1879px;top:8px;">帮助</div><div class="new">NEW</div><svg class="abs" style="left:35px;top:41px" width="17" height="7"><path d="M7.500,0.500 H2.500 Q0.500,0.500 0.500,3.500 Q0.500,6.500 2.500,6.500 H7.500 M9.500,0.500 H14.500 Q16.500,0.500 16.500,3.500 Q16.500,6.500 14.500,6.500 H9.500 M4.500,3.500 H12.500" fill="none" stroke="#ccc" stroke-width="1"/></svg><div class="t song12" style="left:56px;top:37px;">上证指数<span class="mono">(SHSE 999001)</span></div><div class="t song12" style="left:194px;top:37px;">日线</div><svg class="abs" style="left:219px;top:40px" width="12" height="8"><path d="M1,1.500 L6,6.500 L11,1.500" fill="none" stroke="#ddd" stroke-width="1.400"/></svg><div class="t lab yel" style="left:86px;top:54px;letter-spacing:0.3px">MA组合(5,10,0,0,60,0)</div><svg class="abs" style="left:216px;top:60px" width="10" height="7"><path d="M1,1 L5,5.500 L9,1" fill="none" stroke="#e6e600" stroke-width="1.300"/></svg><div class="t lab wht" style="left:233px;top:54px;">MA5 3504.49</div><div class="t lab yel" style="left:315px;top:54px;">MA10 3514.53</div><div class="t lab gry" style="left:404px;top:54px;">MA60 3564.51</div><div class="t lab yel" style="left:1617px;top:55px;font-size:12px">向前复权</div><div class="t lab yel" style="left:82px;top:540px;font-size:12px">64天</div><div class="t lab yel" style="left:86px;top:557px;">MACD(12,26,9)</div><svg class="abs" style="left:172px;top:563px" width="10" height="7"><path d="M1,1 L5,5.500 L9,1" fill="none" stroke="#e6e600" stroke-width="1.300"/></svg><div class="t lab wht" style="left:191px;top:557px;">DIFF -20.71</div><div class="t lab yel" style="left:263px;top:557px;">DEA -17.81</div><div class="t lab wht" style="left:338px;top:557px;">-5.79</div><div class="t lab yel" style="left:86px;top:749px;">KDJ(9,3,3)</div><svg class="abs" style="left:147px;top:755px" width="10" height="7"><path d="M1,1 L5,5.500 L9,1" fill="none" stroke="#e6e600" stroke-width="1.300"/></svg><div class="t lab wht" style="left:165px;top:749px;">K 45.81</div><div class="t lab yel" style="left:216px;top:749px;">D 33.90</div><div class="t lab mag" style="left:268px;top:749px;">J 69.62</div><div class="t lab red" style="left:742px;top:71px;font-size:12.6px">3723.85</div><div class="t lab red" style="left:166px;top:319px;font-size:12.6px">3544.09</div><div class="t lab cy" style="left:94px;top:483px;font-size:12.6px">3436.93</div><div class="t lab cy" style="left:334px;top:542px;font-size:12.6px">3394.97</div><div class="t lab cy" style="left:1054px;top:375px;font-size:12.6px">3515.14</div><div class="t lab red" style="left:1294px;top:207px;font-size:12.6px">3625.02</div><div class="t lab cy" style="left:1558px;top:468px;font-size:12.6px">3448.44</div><div class="t yax" style="right:1841px;top:250px;">3600.00</div><div class="t yax" style="right:1841px;top:388px;">3500.00</div><div class="t yax" style="right:1841px;top:594px;">40.00</div><div class="t yax" style="right:1841px;top:634px;">20.00</div><div class="t yax" style="right:1841px;top:675px;">0.00</div><div class="t yax" style="right:1841px;top:715px;">-20.00</div><div class="t yax" style="right:1841px;top:779px;">100</div><div class="t yax" style="right:1841px;top:807px;">80</div><div class="t yax" style="right:1841px;top:851px;">50</div><div class="t yax" style="right:1841px;top:894px;">20</div><div class="t date" style="left:504px;top:936px;">2021/09/01</div><div class="t date" style="left:984px;top:936px;">2021/10/08</div><div class="t date" style="left:1560px;top:936px;">2021/11/11</div><div class="vt" style="left:10px;top:69px;color:#8a8a8a">分<br>时<br>图</div><div class="vt" style="left:10px;top:149px;color:#fff"><b style="font-family:'Liberation Serif',serif;font-size:13px">K</b><br>线<br>图</div><div class="rt" style="left:9px;top:229px;">资讯链</div><div class="rt" style="left:9px;top:306px;">F10资料</div><div class="t big" style="left:1680px;top:38px;">上证指数 999001</div><div class="t red" style="left:1680px;top:67px;font-size:20px;line-height:24px">3532.79</div><div class="t red" style="left:1762px;top:71px;font-size:15px;line-height:18px">+40.32</div><div class="t red" style="left:1820px;top:71px;font-size:15px;line-height:18px">+1.15%</div><div class="t rl" style="left:1679px;top:92.5px;">昨日收盘</div><div class="t rv w" style="right:3px;top:92.5px;">3492.46</div><div class="t rl" style="left:1679px;top:114.5px;">今日开盘</div><div class="t rv g" style="right:3px;top:114.5px;">3486.45</div><div class="t rl" style="left:1679px;top:136.5px;">今日最高</div><div class="t rv red" style="right:3px;top:136.5px;">3534.20</div><div class="t rl" style="left:1679px;top:158.5px;">今日最低</div><div class="t rv g" style="right:3px;top:158.5px;">3482.83</div><div class="t rl" style="left:1679px;top:180.5px;">总成交量</div><div class="t rv red" style="right:3px;top:180.5px;">3.2<span class="yi">亿</span></div><div class="t rl" style="left:1679px;top:202.5px;">总成交额</div><div class="t rv red" style="right:3px;top:202.5px;">4648.0<span class="yi">亿</span></div><div class="t rl" style="left:1679px;top:226.5px;">上涨家数</div><div class="t rv w" style="right:3px;top:226.5px;">1121</div><div class="t rl" style="left:1679px;top:248.5px;">平盘家数</div><div class="t rv w" style="right:3px;top:248.5px;">62</div><div class="t rl" style="left:1679px;top:270.5px;">下跌家数</div><div class="t rv w" style="right:3px;top:270.5px;">505</div><div class="t rl" style="left:1679px;top:292.5px;">沪深均价</div><div class="t rv red" style="right:92px;top:292.5px;">21.32</div><div class="t rv red" style="right:3px;top:292.5px;">0.93%</div><div class="t rl" style="left:1679px;top:317.7px;"><span class="fw">Ａ</span>股指数</div><div class="t rv red" style="right:92px;top:317.7px;">3702.52</div><div class="t rv red" style="right:3px;top:317.7px;">1.15%</div><div class="t rl" style="left:1679px;top:339.69px;"><span class="fw">Ｂ</span>股指数</div><div class="t rv red" style="right:92px;top:339.69px;">271.89</div><div class="t rv red" style="right:3px;top:339.69px;">1.34%</div><div class="t rl" style="left:1679px;top:361.68px;">工业指数</div><div class="t rv red" style="right:92px;top:361.68px;">3352.50</div><div class="t rv red" style="right:3px;top:361.68px;">0.80%</div><div class="t rl" style="left:1679px;top:383.67px;">商业指数</div><div class="t rv red" style="right:92px;top:383.67px;">2904.40</div><div class="t rv red" style="right:3px;top:383.67px;">1.31%</div><div class="t rl" style="left:1679px;top:405.66px;">地产指数</div><div class="t rv red" style="right:92px;top:405.66px;">6137.98</div><div class="t rv red" style="right:3px;top:405.66px;">6.78%</div><div class="t rl" style="left:1679px;top:427.65000000000003px;">公用指数</div><div class="t rv red" style="right:92px;top:427.65000000000003px;">4317.46</div><div class="t rv red" style="right:3px;top:427.65000000000003px;">0.54%</div><div class="t rl" style="left:1679px;top:449.64000000000004px;">综合指数</div><div class="t rv red" style="right:92px;top:449.64000000000004px;">2764.89</div><div class="t rv red" style="right:3px;top:449.64000000000004px;">1.78%</div><div class="t rl" style="left:1679px;top:471.63000000000005px;">上证180</div><div class="t rv red" style="right:92px;top:471.63000000000005px;">10029.27</div><div class="t rv red" style="right:3px;top:471.63000000000005px;">1.58%</div><div class="t rl" style="left:1679px;top:493.62000000000006px;">基金指数</div><div class="t rv red" style="right:92px;top:493.62000000000006px;">7581.03</div><div class="t rv red" style="right:3px;top:493.62000000000006px;">0.99%</div><div class="t rl" style="left:1679px;top:515.61px;">国债指数</div><div class="t rv red" style="right:92px;top:515.61px;">190.24</div><div class="t rv red" style="right:3px;top:515.61px;">0.06%</div><div class="t rl" style="left:1679px;top:537.6px;">企债指数</div><div class="t rv red" style="right:92px;top:537.6px;">258.38</div><div class="t rv red" style="right:3px;top:537.6px;">0.02%</div><div class="t rl" style="left:1679px;top:559.59px;">红利指数</div><div class="t rv red" style="right:92px;top:559.59px;">2717.26</div><div class="t rv red" style="right:3px;top:559.59px;">1.68%</div><div class="t rl" style="left:1679px;top:581.58px;">上证50</div><div class="t rv red" style="right:92px;top:581.58px;">3233.37</div><div class="t rv red" style="right:3px;top:581.58px;">1.99%</div><div class="t rl" style="left:1679px;top:603.57px;">新综指</div><div class="t rv red" style="right:92px;top:603.57px;">2985.51</div><div class="t rv red" style="right:3px;top:603.57px;">1.15%</div><div class="t song12" style="left:1700px;top:934px;color:#b8b8b8;line-height:16px;margin-top:2px">指数</div><div class="t song12" style="left:1747px;top:934px;color:#b8b8b8;line-height:16px;margin-top:2px">贡献度</div><div class="t song12" style="left:1806px;top:934px;color:#b8b8b8;line-height:16px;margin-top:2px">领涨</div><div class="abs" style="left:0;top:954px;width:1920px;height:26px;background:#24272c"></div><div class="abs" style="left:0;top:980px;width:1920px;height:28px;background:#1b1d21"></div><div class="t menu" style="left:35px;top:958px;color:#f58220">我的板块</div><div class="abs" style="left:29px;top:978px;width:60px;height:2px;background:#f58220"></div><svg class="abs" style="left:96px;top:962px" width="10" height="10"><path d="M5,0 V10 M0,5 H10" stroke="#ddd" stroke-width="2"/></svg><svg class="abs" style="left:1830px;top:958px" width="21" height="18"><path d="M3,12 V9 A7.500,7.500 0 0 1 18,9 V12" fill="none" stroke="#f58220" stroke-width="1.800"/><rect x="1.500" y="9.500" width="4" height="7" rx="1.500" fill="none" stroke="#f58220" stroke-width="1.600"/><rect x="15.500" y="9.500" width="4" height="7" rx="1.500" fill="none" stroke="#f58220" stroke-width="1.600"/></svg><div class="t menu" style="left:1856px;top:958px;color:#f58220;font-size:13px">论坛提问</div><div class="t logo" style="left:5px;top:983px">web<span style="display:inline-block;width:7.500px"></span>tock</div><svg class="abs" style="left:33px;top:983px" width="10" height="18"><path d="M5.500,0.500 C7.500,3.500 3.500,6 4.500,9 C5.500,11.500 8,12.500 6.500,15 C5.500,16.800 3,17.300 1,16.500 C3,16.300 4,15 3.300,13.300 C2.500,11.300 0.500,10 1.300,6.800 C2,4 5.300,3.300 5.500,0.500 Z" fill="#f58220"/></svg><div class="t stat" style="left:106px;top:988px;color:#ff3c3c">上证指数 3532.79 +40.32</div><div class="t stat" style="left:279px;top:988px;color:#ff3c3c">文华商品 196.52 +3.89</div><div class="t stat" style="left:454px;top:988px;color:#e0e0e0">CRB指数</div><div class="t stat" style="left:508px;top:988px;color:#e0e0e0">0.00 0.00</div><div class="t menu" style="left:1308px;top:984px;color:#f58220;line-height:17px;letter-spacing:0.42px;margin-top:1px">[提醒]有不法网站/直播间假冒文华进行诈骗</div><div class="btn" style="left:1652px;">期货户</div><div class="btn" style="left:1706px;">外盘户</div><svg class="abs" style="left:1764px;top:988px" width="8" height="12"><path d="M6.500,1 L1.500,11" stroke="#e0202a" stroke-width="1.500"/></svg><svg class="abs" style="left:1782px;top:986px" width="16" height="15"><rect x="0.500" y="0.500" width="15" height="14" fill="#1a9a1a" stroke="#cfe8cf" stroke-width="1"/><rect x="1" y="11" width="14" height="3" fill="#30e030"/><path d="M3.500,1 V11 M6.500,1 V11 M9.500,1 V11 M12.500,1 V11 M1,3.500 H15 M1,6.500 H15 M1,9.500 H15" stroke="#0a4a0a" stroke-width="1"/></svg><svg class="abs" style="left:1805px;top:986px" width="16" height="15"><rect x="0" y="11" width="3" height="4" fill="#1db21d"/><rect x="4" y="8" width="3" height="7" fill="#1db21d"/><rect x="8" y="4" width="3" height="11" fill="#1db21d"/><rect x="12" y="0" width="3" height="15" fill="#1db21d"/></svg><div class="t menu" style="left:1828px;top:985px;color:#ccc;font-size:13px">17:57:16 - wh</div>
<svg class="abs" style="left:0;top:0" width="1920" height="1008" viewBox="0 0 1920 1008"><polyline points="765,88 1078.7,374.6 1317,220 1578.7,469 1738,308.500" fill="none" stroke="#ee1c25" stroke-width="6" stroke-linecap="round" stroke-linejoin="round"/></svg>
</body></html>
